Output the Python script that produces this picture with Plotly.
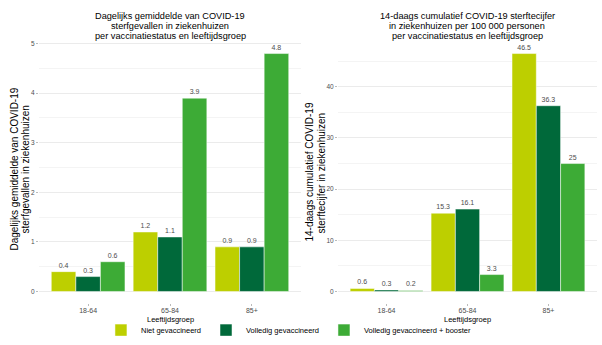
import plotly.graph_objects as go

groups = ["18-64", "65-84", "85+"]
series_names = ["Niet gevaccineerd", "Volledig gevaccineerd", "Volledig gevaccineerd + booster"]
colors = ["#BDCF00", "#00693A", "#3DAB36"]

daily_avg = [
    [0.4, 1.2, 0.9],
    [0.3, 1.1, 0.9],
    [0.6, 3.9, 4.8],
]
cum14 = [
    [0.6, 15.3, 46.5],
    [0.3, 16.1, 36.3],
    [0.2, 3.3, 25],
]

title_left = ["Dagelijks gemiddelde van COVID-19", "sterfgevallen in ziekenhuizen",
              "per vaccinatiestatus en leeftijdsgroep"]
title_right = ["14-daags cumulatief COVID-19 sterftecijfer", "in ziekenhuizen per 100 000 personen",
               "per vaccinatiestatus en leeftijdsgroep"]
ytitle_left = ["Dagelijks gemiddelde van COVID-19", "sterfgevallen in ziekenhuizen"]
ytitle_right = ["14-daags cumulatief COVID-19", "sterftecijfer in ziekenhuizen"]
xtitle = "Leeftijdsgroep"

FONT = "Liberation Sans, Arial, sans-serif"
GRAY = "#4D4D4D"
W, H = 602, 345

fig = go.Figure()
for i, name in enumerate(series_names):
    fig.add_trace(go.Bar(
        x=groups, y=daily_avg[i], name=name, marker=dict(color=colors[i], line=dict(color="white", width=0.5)),
        text=[f"{v:g}" for v in daily_avg[i]], textposition="outside", constraintext="none",
        textfont=dict(size=7, color=GRAY), cliponaxis=False, xaxis="x", yaxis="y",
        legendgroup=name, showlegend=True))
for i, name in enumerate(series_names):
    fig.add_trace(go.Bar(
        x=groups, y=cum14[i], name=name, marker=dict(color=colors[i], line=dict(color="white", width=0.5)),
        text=[f"{v:g}" for v in cum14[i]], textposition="outside", constraintext="none",
        textfont=dict(size=7, color=GRAY), cliponaxis=False, xaxis="x2", yaxis="y2",
        legendgroup=name, showlegend=False))

ydom = [(H - 304) / H, (H - 40) / H]
grid = "#EBEBEB"
minor_grid = "#F4F4F4"

def yax(rng, dtick, anchor):
    return dict(range=rng, dtick=dtick, tick0=0, domain=ydom, anchor=anchor,
                showgrid=True, gridcolor=grid, gridwidth=0.8, zeroline=False,
                showline=False, ticks="outside", ticklen=2, tickcolor="#BBBBBB",
                tickfont=dict(size=6.5, color=GRAY, family=FONT),
                minor=dict(dtick=dtick / 2, tick0=0, showgrid=True, gridcolor=minor_grid, gridwidth=0.8, ticks=""))

def xax(domain, anchor):
    return dict(domain=domain, anchor=anchor, type="category", range=[-0.6, 2.6],
                showgrid=False, zeroline=False, showline=False, ticks="outside",
                ticklen=2, tickcolor="#BBBBBB", ticklabelstandoff=-2,
                tickfont=dict(size=7, color=GRAY, family=FONT))

fig.update_layout(
    width=W, height=H, margin=dict(l=0, r=0, t=0, b=0),
    paper_bgcolor="white", plot_bgcolor="white",
    font=dict(family=FONT, color="black"),
    barmode="group", bargap=0.1, bargroupgap=0,
    xaxis=xax([39 / W, 301 / W], "y"),
    yaxis=yax([-0.24, 5.04], 1, "x"),
    xaxis2=xax([338 / W, 597 / W], "y2"),
    yaxis2=yax([-2.325, 48.825], 10, "x2"),
    legend=dict(orientation="h", x=0.48, xanchor="center", y=(H - 331) / H, yanchor="middle",
                font=dict(size=7.5, family=FONT, color="black"), itemwidth=30, tracegroupgap=0,
                bgcolor="rgba(0,0,0,0)"),
    showlegend=True,
)

annotations = []
for k, line in enumerate(title_left):
    annotations.append(dict(text=line, x=170 / W, y=(H - (14 + 10.3 * k)) / H, font=dict(size=9.2)))
for k, line in enumerate(title_right):
    annotations.append(dict(text=line, x=467 / W, y=(H - (14 + 10.3 * k)) / H, font=dict(size=9.2)))
for k, line in enumerate(ytitle_left):
    annotations.append(dict(text=line, textangle=-90, x=(15 + 11 * k) / W, y=(H - 169) / H, font=dict(size=10)))
for k, line in enumerate(ytitle_right):
    annotations.append(dict(text=line, textangle=-90, x=(310 + 12 * k) / W, y=(H - 172) / H, font=dict(size=10)))
annotations.append(dict(text=xtitle, x=170 / W, y=(H - 320) / H, font=dict(size=7.5)))
annotations.append(dict(text=xtitle, x=467 / W, y=(H - 320) / H, font=dict(size=7.5)))
for a in annotations:
    a.update(xref="paper", yref="paper", showarrow=False, xanchor="center", yanchor="middle")
    a["font"].update(family=FONT, color="black")
fig.update_layout(annotations=annotations)

fig.write_html("out.html")
